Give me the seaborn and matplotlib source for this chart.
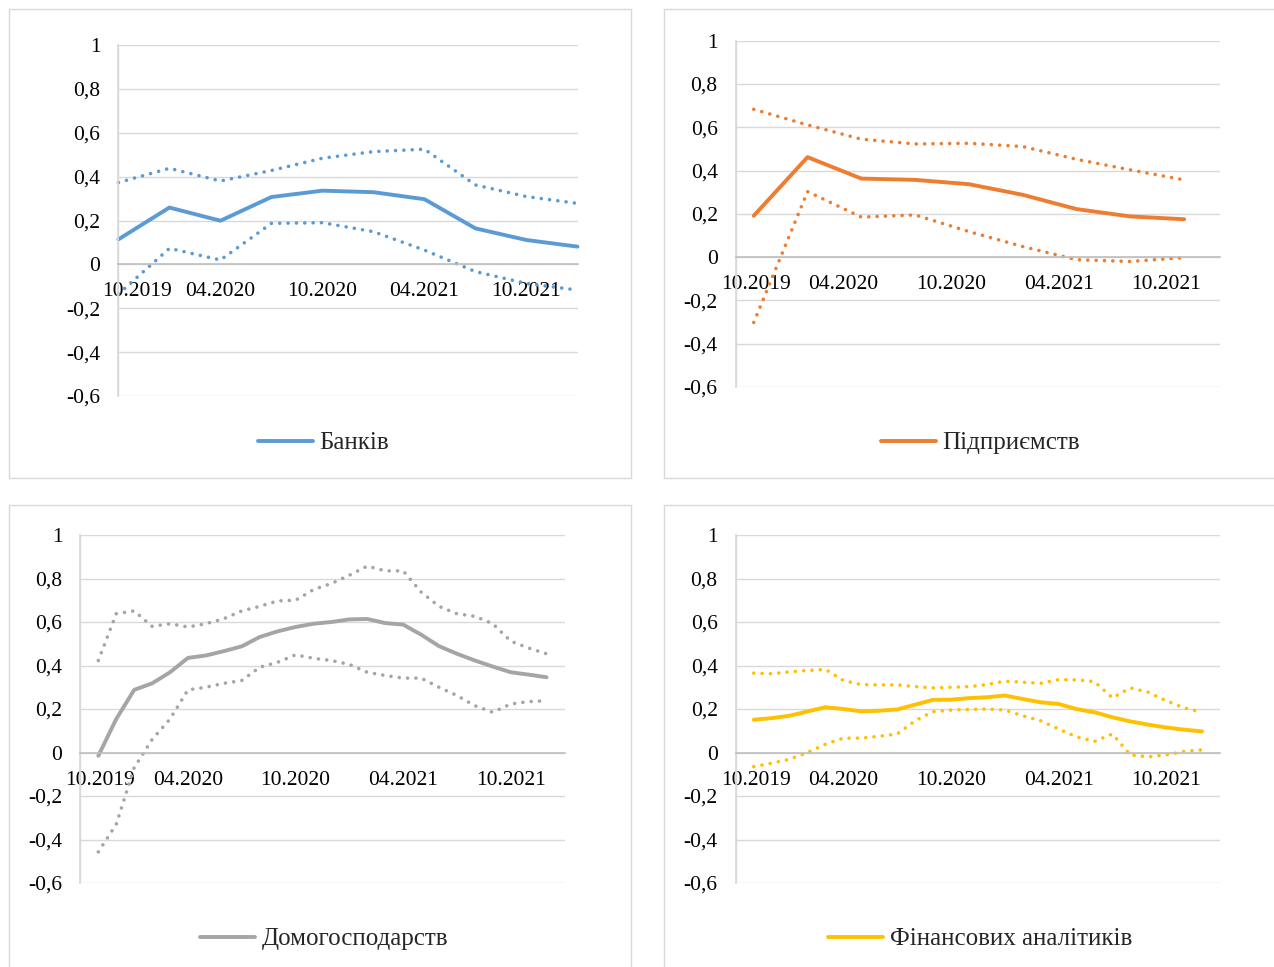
import numpy as np
import pandas as pd
import matplotlib
matplotlib.use("Agg")
import matplotlib.pyplot as plt
import seaborn as sns
from matplotlib.patches import Rectangle
from matplotlib.ticker import FixedLocator, FuncFormatter

W, H = 1274, 967

# --- data ---
tick_labels = ["10.2019", "04.2020", "10.2020", "04.2021", "10.2021"]

banks_dates = pd.date_range("2019-10-01", periods=10, freq="3MS")
banks = [0.114, 0.259, 0.199, 0.307, 0.336, 0.329, 0.297, 0.164, 0.111, 0.081]
banks_hi = [0.373, 0.438, 0.380, 0.428, 0.484, 0.514, 0.525, 0.362, 0.309, 0.278]
banks_lo = [-0.135, 0.073, 0.020, 0.187, 0.190, 0.149, 0.065, -0.033, -0.087, -0.117]

firms_dates = pd.date_range("2019-11-01", periods=9, freq="3MS")
firms = [0.191, 0.462, 0.363, 0.357, 0.337, 0.288, 0.222, 0.188, 0.175]
firms_hi = [0.683, 0.611, 0.545, 0.523, 0.526, 0.511, 0.452, 0.403, 0.357]
firms_lo = [-0.302, 0.303, 0.185, 0.195, 0.118, 0.049, -0.012, -0.020, -0.002]

house_dates = pd.date_range("2019-11-01", periods=26, freq="MS")
house = [-0.015, 0.154, 0.288, 0.318, 0.369, 0.435, 0.446, 0.466, 0.488, 0.531,
         0.557, 0.577, 0.592, 0.600, 0.612, 0.614, 0.595, 0.588, 0.542, 0.489,
         0.454, 0.423, 0.395, 0.369, 0.358, 0.346]
house_hi = [0.423, 0.638, 0.651, 0.580, 0.592, 0.577, 0.592, 0.615, 0.651, 0.672,
            0.697, 0.700, 0.749, 0.777, 0.815, 0.857, 0.835, 0.835, 0.738, 0.672,
            0.638, 0.626, 0.592, 0.512, 0.480, 0.454]
house_lo = [-0.457, -0.330, -0.070, 0.060, 0.154, 0.288, 0.300, 0.318, 0.331, 0.392,
            0.415, 0.449, 0.433, 0.423, 0.405, 0.369, 0.354, 0.342, 0.342, 0.300,
            0.262, 0.215, 0.185, 0.223, 0.234, 0.238]

fin_dates = pd.date_range("2019-11-01", periods=26, freq="MS")
fin = [0.151, 0.158, 0.169, 0.189, 0.208, 0.200, 0.189, 0.192, 0.198, 0.220,
       0.242, 0.243, 0.250, 0.254, 0.262, 0.246, 0.231, 0.223, 0.200, 0.185,
       0.162, 0.143, 0.128, 0.115, 0.105, 0.097]
fin_hi = [0.365, 0.362, 0.371, 0.377, 0.382, 0.331, 0.312, 0.311, 0.311, 0.303,
          0.297, 0.300, 0.303, 0.312, 0.328, 0.323, 0.318, 0.335, 0.334, 0.326,
          0.251, 0.297, 0.277, 0.238, 0.205, 0.185]
fin_lo = [-0.065, -0.049, -0.031, 0.000, 0.038, 0.066, 0.066, 0.075, 0.085, 0.146,
          0.188, 0.195, 0.198, 0.200, 0.195, 0.169, 0.146, 0.108, 0.072, 0.051,
          0.085, -0.011, -0.020, -0.011, 0.005, 0.012]


def month_index(dates):
    """Months elapsed since 10.2019."""
    return (dates.year - 2019) * 12 + dates.month - 10


def comma_fmt(v, pos):
    return f"{round(v, 1):g}".replace(".", ",")


panels = [
    dict(name="Банків", color="#5B9BD5", dates=banks_dates, mid=banks, hi=banks_hi, lo=banks_lo,
         box=(9, 9, 631, 478), plot=(118.4, 45, 577.5, 396), legend=(323, 443)),
    dict(name="Підприємств", color="#ED7D31", dates=firms_dates, mid=firms, hi=firms_hi, lo=firms_lo,
         box=(664, 9, 1290, 478), plot=(735.8, 40.7, 1220, 387), legend=(980, 443)),
    dict(name="Домогосподарств", color="#A5A5A5", dates=house_dates, mid=house, hi=house_hi, lo=house_lo,
         box=(9, 505, 631, 990), plot=(80.4, 535, 564.5, 883), legend=(324, 939)),
    dict(name="Фінансових аналітиків", color="#FFC000", dates=fin_dates, mid=fin, hi=fin_hi, lo=fin_lo,
         box=(664, 505, 1290, 990), plot=(735.8, 535, 1220, 883), legend=(980, 939)),
]

sns.set_theme(style="white")
plt.rcParams["font.family"] = ["Liberation Serif", "DejaVu Serif"]

fig = plt.figure(figsize=(W / 100, H / 100), dpi=100)

for p in panels:
    # chart frame
    x0, y0, x1, y1 = p["box"]
    fig.add_artist(Rectangle((x0 / W, 1 - y1 / H), (x1 - x0) / W, (y1 - y0) / H,
                             transform=fig.transFigure, fill=False,
                             edgecolor="#D9D9D9", linewidth=1))

    l, t, r, b = p["plot"]
    ax = fig.add_axes([l / W, 1 - b / H, (r - l) / W, (b - t) / H])
    x = month_index(p["dates"])

    sns.lineplot(x=x, y=p["mid"], ax=ax, color=p["color"], linewidth=2.8,
                 label=p["name"], clip_on=False)
    for band in (p["hi"], p["lo"]):
        sns.lineplot(x=x, y=band, ax=ax, color=p["color"], linewidth=2.6,
                     linestyle=(0, (0.01, 2.3)), dash_capstyle="round",
                     legend=False, clip_on=False)

    ax.set_xlim(0, 27)
    ax.set_ylim(-0.6, 1.0)
    ax.set_xticks([1.12, 6, 12, 18, 24])
    ax.set_xticklabels(tick_labels)
    ax.xaxis.set_minor_locator(FixedLocator([0, 6, 12, 18, 24]))
    ax.set_yticks(np.linspace(-0.6, 1.0, 9))
    ax.yaxis.set_major_formatter(FuncFormatter(comma_fmt))
    ax.set_axisbelow(True)
    ax.grid(False)
    ax.grid(axis="x", which="minor", color="#D9D9D9", linewidth=1)
    ax.grid(axis="y", which="major", color="#D9D9D9", linewidth=1)

    for side in ("top", "right"):
        ax.spines[side].set_visible(False)
    ax.spines["left"].set_color("#D9D9D9")
    ax.spines["bottom"].set_position(("data", 0))
    ax.spines["bottom"].set_color("#BFBFBF")
    ax.spines["bottom"].set_linewidth(1.2)

    ax.tick_params(which="both", length=0, labelsize=15.5, labelcolor="black")
    ax.tick_params(axis="x", pad=13)
    ax.tick_params(axis="y", pad=13)
    ax.set_xlabel("")
    ax.set_ylabel("")

    handles, labels = ax.get_legend_handles_labels()
    cx, cy = p["legend"]
    ax.legend(handles[:1], labels[:1], loc="center",
              bbox_to_anchor=(cx / W, 1 - cy / H), bbox_transform=fig.transFigure,
              frameon=False, fontsize=18, handlelength=2.2, handletextpad=0.25)

fig.savefig("out.png", dpi=100)
plt.close(fig)
